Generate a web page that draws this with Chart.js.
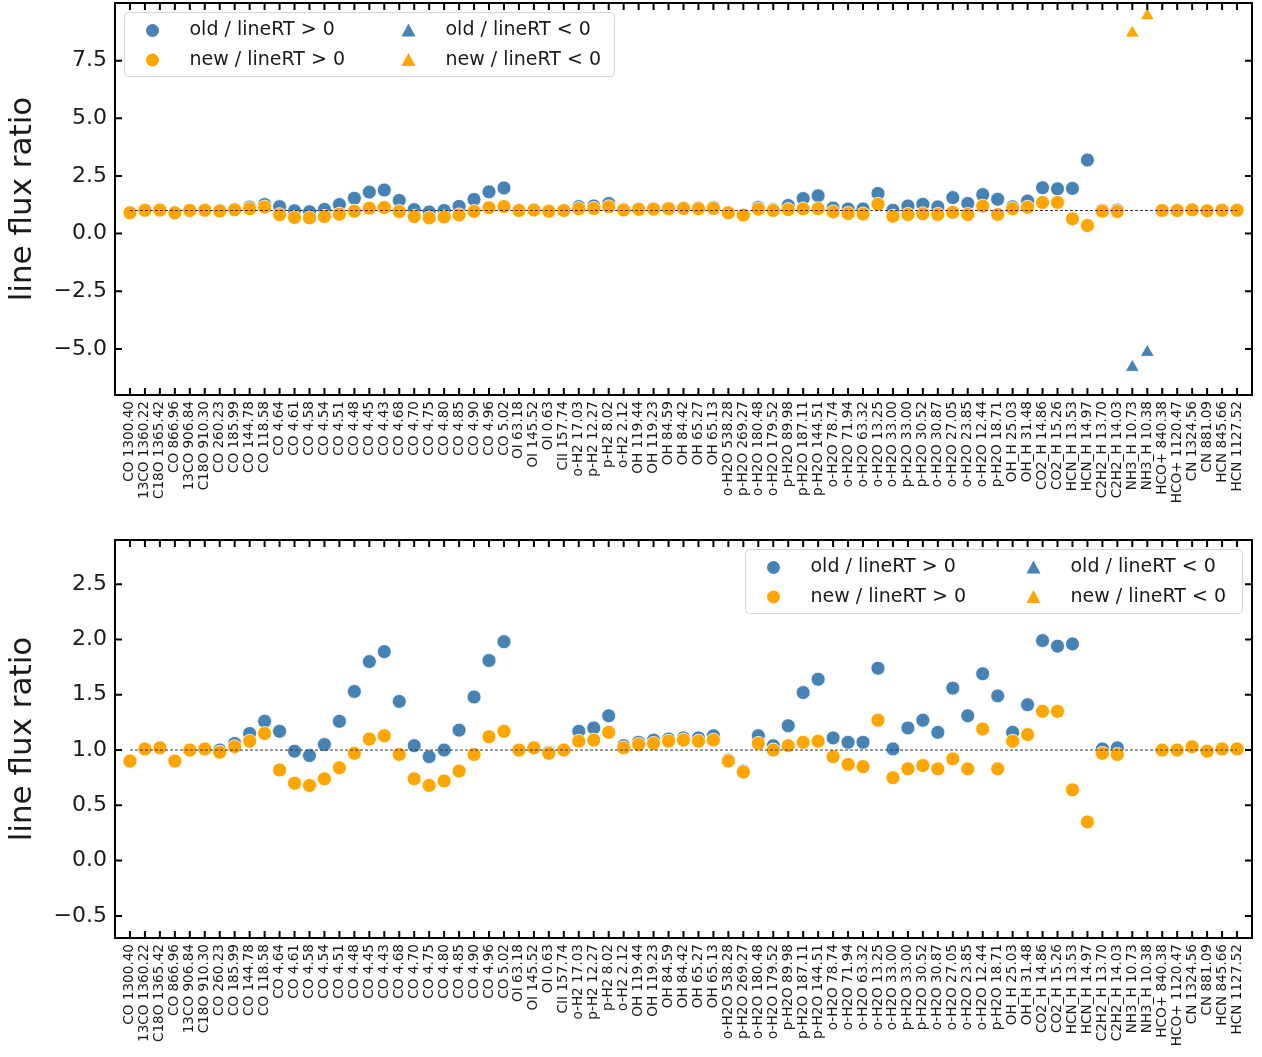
<!DOCTYPE html>
<html>
<head>
<meta charset="utf-8">
<script src="https://cdn.jsdelivr.net/npm/chart.js@4.4.1/dist/chart.umd.min.js"></script>
<style>
  html, body { margin: 0; padding: 0; background: #fff; }
  #wrap { position: relative; width: 1262px; height: 1057px; }
  canvas { position: absolute; left: 0; }
  #topChart { top: 0; }
  #bottomChart { top: 520px; }
</style>
</head>
<body>
<div id="wrap">
  <canvas id="topChart" width="1262" height="520"></canvas>
  <canvas id="bottomChart" width="1262" height="537"></canvas>
</div>
<script>
const lineNames = [
  "CO 1300.40", "13CO 1360.22", "C18O 1365.42", "CO 866.96", "13CO 906.84",
  "C18O 910.30", "CO 260.23", "CO 185.99", "CO 144.78", "CO 118.58",
  "CO 4.64", "CO 4.61", "CO 4.58", "CO 4.54", "CO 4.51",
  "CO 4.48", "CO 4.45", "CO 4.43", "CO 4.68", "CO 4.70",
  "CO 4.75", "CO 4.80", "CO 4.85", "CO 4.90", "CO 4.96",
  "CO 5.02", "OI 63.18", "OI 145.52", "OI 0.63", "CII 157.74",
  "o-H2 17.03", "p-H2 12.27", "p-H2 8.02", "o-H2 2.12", "OH 119.44",
  "OH 119.23", "OH 84.59", "OH 84.42", "OH 65.27", "OH 65.13",
  "o-H2O 538.28", "p-H2O 269.27", "o-H2O 180.48", "o-H2O 179.52", "p-H2O 89.98",
  "p-H2O 187.11", "p-H2O 144.51", "o-H2O 78.74", "o-H2O 71.94", "o-H2O 63.32",
  "o-H2O 13.25", "o-H2O 33.00", "p-H2O 33.00", "p-H2O 30.52", "o-H2O 30.87",
  "o-H2O 27.05", "o-H2O 23.85", "o-H2O 12.44", "p-H2O 18.71", "OH_H 25.03",
  "OH_H 31.48", "CO2_H 14.86", "CO2_H 15.26", "HCN_H 13.53", "HCN_H 14.97",
  "C2H2_H 13.70", "C2H2_H 14.03", "NH3_H 10.73", "NH3_H 10.38", "HCO+ 840.38",
  "HCO+ 1120.47", "CN 1324.56", "CN 881.09", "HCN 845.66", "HCN 1127.52"
];

const oldRatio = [
  0.90, 1.01, 1.02, 0.90, 1.00, 1.01, 1.00, 1.06, 1.15, 1.26,
  1.17, 0.99, 0.95, 1.05, 1.26, 1.53, 1.80, 1.89, 1.44, 1.04,
  0.94, 1.00, 1.18, 1.48, 1.81, 1.98, 1.00, 1.02, 0.98, 1.00,
  1.17, 1.20, 1.31, 1.04, 1.07, 1.09, 1.10, 1.11, 1.11, 1.13,
  0.91, 0.81, 1.13, 1.04, 1.22, 1.52, 1.64, 1.11, 1.07, 1.07,
  1.74, 1.01, 1.20, 1.27, 1.16, 1.56, 1.31, 1.69, 1.49, 1.16,
  1.41, 1.99, 1.94, 1.96, 3.19, 1.01, 1.02, -5.80, -5.15, 1.00,
  1.00, 1.03, 0.99, 1.01, 1.01
];

const newRatio = [
  0.90, 1.01, 1.02, 0.90, 1.00, 1.01, 0.98, 1.03, 1.08, 1.15,
  0.82, 0.70, 0.68, 0.74, 0.84, 0.97, 1.10, 1.13, 0.96, 0.74,
  0.68, 0.72, 0.81, 0.96, 1.12, 1.17, 1.00, 1.02, 0.97, 1.00,
  1.08, 1.09, 1.16, 1.02, 1.05, 1.06, 1.08, 1.09, 1.08, 1.09,
  0.90, 0.80, 1.06, 1.00, 1.04, 1.07, 1.08, 0.94, 0.87, 0.85,
  1.27, 0.75, 0.83, 0.86, 0.83, 0.92, 0.83, 1.19, 0.83, 1.08,
  1.14, 1.35, 1.35, 0.64, 0.35, 0.97, 0.96, 8.70, 9.45, 1.00,
  1.00, 1.03, 0.99, 1.01, 1.01
];

// lines where lineRT < 0 (drawn as triangles)
const negativeRT = ["NH3_H 10.73", "NH3_H 10.38"];

const topYTicks = [-5.0, -2.5, 0.0, 2.5, 5.0, 7.5];
const bottomYTicks = [-0.5, 0.0, 0.5, 1.0, 1.5, 2.0, 2.5];
const refLevel = 1;

const BLUE = "#4682b4";
const ORANGE = "#ffa500";
const TEXT = "#1a1a1a";

Chart.defaults.font.family = "'DejaVu Sans', sans-serif";

function pointsFor(values, wantNegative) {
  const pts = [];
  lineNames.forEach((name, i) => {
    if (negativeRT.includes(name) === wantNegative) pts.push({ x: i, y: values[i] });
  });
  return pts;
}

function makeDatasets() {
  const sets = [
    { label: "old / lineRT > 0", data: pointsFor(oldRatio, false), style: "circle", color: BLUE, order: 1 },
    { label: "new / lineRT > 0", data: pointsFor(newRatio, false), style: "circle", color: ORANGE, order: 0 },
    { label: "old / lineRT < 0", data: pointsFor(oldRatio, true), style: "triangle", color: BLUE, order: 1 },
    { label: "new / lineRT < 0", data: pointsFor(newRatio, true), style: "triangle", color: ORANGE, order: 0 },
  ];
  return sets.map((s) => ({
    label: s.label,
    data: s.data,
    order: s.order,
    pointStyle: s.style,
    pointRadius: s.style === "triangle" ? 8 : 7,
    pointBackgroundColor: s.color,
    pointBorderColor: "#fff",
    pointBorderWidth: 0.8,
    backgroundColor: s.color,
  }));
}

// dashed line at ratio = 1, then black frame with inward ticks on all sides
const refLineAndFrame = {
  id: "refLineAndFrame",
  afterDatasetsDraw(chart, args, opts) {
    const { ctx, chartArea: a, scales } = chart;
    const xs = scales.x, ys = scales.y;
    const yRef = ys.getPixelForValue(refLevel);
    ctx.save();
    ctx.strokeStyle = "#333";
    ctx.lineWidth = 1;
    ctx.setLineDash([3, 2]);
    ctx.beginPath();
    ctx.moveTo(xs.getPixelForValue(0), yRef);
    ctx.lineTo(xs.getPixelForValue(lineNames.length - 1), yRef);
    ctx.stroke();
    ctx.setLineDash([]);

    const len = 7;
    ctx.strokeStyle = "#000";
    ctx.lineWidth = 2;
    ctx.beginPath();
    lineNames.forEach((name, i) => {
      const px = xs.getPixelForValue(i);
      ctx.moveTo(px, a.bottom);
      ctx.lineTo(px, a.bottom - len);
      ctx.moveTo(px, a.top);
      ctx.lineTo(px, a.top + len);
    });
    opts.yTicks.forEach((v) => {
      const py = ys.getPixelForValue(v);
      ctx.moveTo(a.left, py);
      ctx.lineTo(a.left + len, py);
      ctx.moveTo(a.right, py);
      ctx.lineTo(a.right - len, py);
    });
    ctx.stroke();
    ctx.lineWidth = 2;
    ctx.strokeRect(a.left, a.top, a.right - a.left, a.bottom - a.top);
    ctx.restore();
  },
};

// matplotlib-like 2x2 legend box
const boxLegend = {
  id: "boxLegend",
  afterDraw(chart, args, opts) {
    const { ctx, chartArea: a } = chart;
    const w = opts.width, h = 64, pad = 9.5;
    const x0 = opts.corner === "right" ? a.right - pad - w : a.left + pad;
    const y0 = a.top + pad;
    ctx.save();
    ctx.beginPath();
    ctx.roundRect(x0, y0, w, h, 4);
    ctx.fillStyle = "rgba(255,255,255,0.8)";
    ctx.fill();
    ctx.strokeStyle = "#d6d6d6";
    ctx.lineWidth = 1;
    ctx.stroke();

    const colMarker = [28, opts.col2 - 37];
    const colText = [65, opts.col2];
    const rowY = [18, 47.5];
    ctx.font = "19px 'DejaVu Sans'";
    ctx.textBaseline = "middle";
    ctx.textAlign = "left";
    chart.data.datasets.forEach((ds, i) => {
      const col = Math.floor(i / 2), row = i % 2;
      const mx = x0 + colMarker[col], my = y0 + rowY[row];
      ctx.fillStyle = ds.pointBackgroundColor;
      ctx.beginPath();
      if (ds.pointStyle === "triangle") {
        ctx.moveTo(mx, my - 7);
        ctx.lineTo(mx - 7, my + 6);
        ctx.lineTo(mx + 7, my + 6);
        ctx.closePath();
      } else {
        ctx.arc(mx, my, 6.5, 0, Math.PI * 2);
      }
      ctx.fill();
      ctx.fillStyle = TEXT;
      ctx.fillText(ds.label, x0 + colText[col], my);
    });
    ctx.restore();
  },
};

function makePanel(canvasId, yMin, yMax, yTicks, padTop, xAxisHeight, legendOpts) {
  return new Chart(document.getElementById(canvasId), {
    type: "scatter",
    data: { datasets: makeDatasets() },
    plugins: [refLineAndFrame, boxLegend],
    options: {
      responsive: false,
      animation: false,
      events: [],
      layout: { autoPadding: false, padding: { top: padTop, right: 10, bottom: 0, left: 0 } },
      plugins: {
        legend: { display: false },
        tooltip: { enabled: false },
        refLineAndFrame: { yTicks: yTicks },
        boxLegend: legendOpts,
      },
      scales: {
        x: {
          type: "linear",
          min: -1,
          max: lineNames.length,
          afterBuildTicks: (s) => {
            s.ticks = lineNames.map((_, i) => ({ value: i }));
          },
          afterFit: (s) => {
            s.height = xAxisHeight;
            s.paddingLeft = 0;
            s.paddingRight = 0;
          },
          grid: { display: false, drawTicks: false },
          border: { display: false },
          ticks: {
            autoSkip: false,
            maxRotation: 90,
            minRotation: 90,
            padding: 6,
            color: TEXT,
            font: { size: 13.6 },
            callback: (v) => lineNames[v],
          },
        },
        y: {
          min: yMin,
          max: yMax,
          afterBuildTicks: (s) => {
            s.ticks = yTicks.map((v) => ({ value: v }));
          },
          afterFit: (s) => {
            s.width = 115;
            s.paddingTop = 0;
            s.paddingBottom = 0;
          },
          grid: { display: false, drawTicks: false },
          border: { display: false },
          ticks: {
            padding: 8,
            color: TEXT,
            font: { size: 22 },
            callback: (v) => v.toFixed(1).replace("-", "\u2212"),
          },
          title: {
            display: true,
            text: "line flux ratio",
            color: TEXT,
            font: { size: 31 },
            padding: { top: 4, bottom: 0 },
          },
        },
      },
    },
  });
}

makePanel("topChart", -7, 10, topYTicks, 3, 125, { corner: "left", width: 490, col2: 321 });
makePanel("bottomChart", -0.7, 2.9, bottomYTicks, 20, 119, { corner: "right", width: 497, col2: 325 });
</script>
</body>
</html>
